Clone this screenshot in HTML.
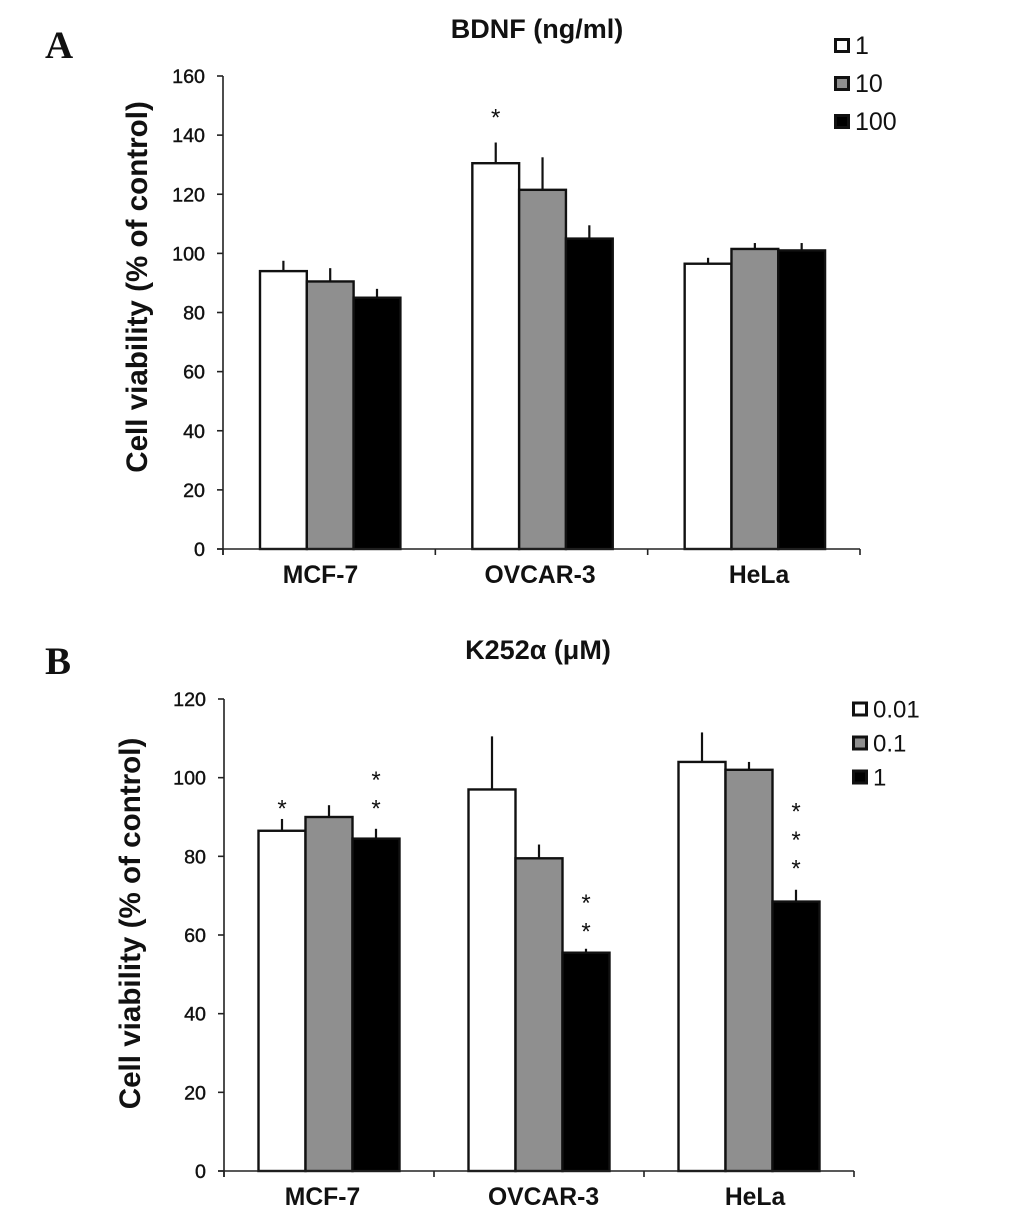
<!DOCTYPE html>
<html>
<head>
<meta charset="utf-8">
<title>Cell viability charts</title>
<style>
html,body{margin:0;padding:0;background:#fff;}
svg{display:block;}
text{font-family:"Liberation Sans",sans-serif;fill:#111;}
</style>
</head>
<body>
<svg id="fig" width="1033" height="1215" viewBox="0 0 1033 1215" xmlns="http://www.w3.org/2000/svg"></svg>
<script>
const categories = ['MCF-7', 'OVCAR-3', 'HeLa'];
const seriesColors = ['#ffffff', '#8f8f8f', '#000000'];

const legendA = ['1', '10', '100'];
const valuesA = [[94, 90.5, 85], [130.5, 121.5, 105], [96.5, 101.5, 101]];
const errorTopsA = [[97.5, 95, 88], [137.5, 132.5, 109.5], [98.5, 103.5, 103.5]];
const starsA = [[0, 0, 0], [1, 0, 0], [0, 0, 0]];
const starBaseA = [[0, 0, 0], [146.8, 0, 0], [0, 0, 0]];
const ticksA = [0, 20, 40, 60, 80, 100, 120, 140, 160];

const legendB = ['0.01', '0.1', '1'];
const valuesB = [[86.5, 90, 84.5], [97, 79.5, 55.5], [104, 102, 68.5]];
const errorTopsB = [[89.5, 93, 87], [110.5, 83, 56.5], [111.5, 104, 71.5]];
const starsB = [[1, 0, 2], [0, 0, 2], [0, 0, 3]];
const starBaseB = [[92.8, 0, 92.8], [0, 0, 61.5], [0, 0, 77.5]];
const ticksB = [0, 20, 40, 60, 80, 100, 120];

const svg = document.getElementById('fig');
function mk(tag, attrs, parent, txt) {
  const e = document.createElementNS('http://www.w3.org/2000/svg', tag);
  for (const k in attrs) e.setAttribute(k, attrs[k]);
  if (txt !== undefined) e.textContent = txt;
  (parent || svg).appendChild(e);
  return e;
}

function drawPanel(p) {
  const g = mk('g', {});
  
  

  const yScale = v => p.y0 - (v / p.yMax) * (p.y0 - p.yTop);
  const catW = (p.x1 - p.x0) / categories.length;
  const xBar = (c, s) => p.x0 + c * catW + p.offset + s * p.barW;

  const letter = mk('text', {x: p.letterX, y: p.letterY, 'font-size': 39, 'font-weight': 'bold', style: 'font-family:"Liberation Serif",serif'}, g, p.id);
  
  

  const title = mk('text', {x: p.titleX, y: p.titleY, 'font-size': p.titleSize, 'font-weight': 'bold', 'text-anchor': 'middle'}, g, p.title);
  
  

  const yTitle = mk('text', {transform: 'translate(' + p.yTitleX + ',' + p.yTitleY + ') rotate(-90)', 'font-size': p.yTitleSize, 'font-weight': 'bold', 'text-anchor': 'middle'}, g, 'Cell viability (% of control)');
  
  

  categories.forEach((cat, c) => {
    p.values[c].forEach((v, s) => {
      const x = xBar(c, s), yv = yScale(v), ye = yScale(p.errorTops[c][s]);
      const cx = x + p.barW / 2;
      const err = mk('line', {x1: cx, x2: cx, y1: yv, y2: ye, stroke: '#111', 'stroke-width': 2.2}, g);
      
      
      const bar = mk('rect', {x: x, y: yv, width: p.barW, height: p.y0 - yv, fill: seriesColors[s], stroke: '#111', 'stroke-width': 2.4}, g);
      
      
      for (let k = 0; k < p.stars[c][s]; k++) {
        const st = mk('text', {x: cx, y: yScale(p.starBase[c][s]) - k * 28.5 + 10.5, 'font-size': 24, 'text-anchor': 'middle'}, g, '*');
        
        
      }
    });
    const lab = mk('text', {x: p.labelXs[c], y: p.y0 + 34, 'font-size': 24.7, 'font-weight': 'bold', 'text-anchor': 'middle'}, g, cat);
    
    
  });

  const yAxis = mk('line', {x1: p.x0, x2: p.x0, y1: p.yTop, y2: p.y0 + 6, stroke: '#222', 'stroke-width': 1.6}, g);
  
  
  const xAxis = mk('line', {x1: p.x0 - 6, x2: p.x1, y1: p.y0, y2: p.y0, stroke: '#222', 'stroke-width': 1.6}, g);
  
  

  for (let c = 0; c <= categories.length; c++) {
    const tx = p.x0 + c * catW;
    const t = mk('line', {x1: tx, x2: tx, y1: p.y0, y2: p.y0 + 6, stroke: '#222', 'stroke-width': 1.6}, g);
    
    
  }

  p.ticks.forEach(v => {
    const ty = yScale(v);
    const t = mk('line', {x1: p.x0 - 6, x2: p.x0, y1: ty, y2: ty, stroke: '#222', 'stroke-width': 1.6}, g);
    
    
    const l = mk('text', {x: p.x0 - 18, y: ty + 7, 'font-size': 19.7, 'text-anchor': 'end', stroke: '#111', 'stroke-width': 0.4}, g, String(v));
    
    
  });

  p.legend.forEach((name, s) => {
    const ly = p.legendY + s * p.legendStep;
    const sw = mk('rect', {x: p.legendX, y: ly, width: 13, height: 12, fill: seriesColors[s], stroke: '#111', 'stroke-width': 3}, g);
    
    
    const t = mk('text', {x: p.legendX + 19.5, y: ly + 14.5, 'font-size': p.legendFont}, g, name);
    
    
  });
}

drawPanel({
  id: 'A', title: 'BDNF (ng/ml)', titleX: 537, titleY: 38, titleSize: 27,
  letterX: 45, letterY: 58,
  yTitleX: 147, yTitleY: 287, yTitleSize: 29.6,
  x0: 223, x1: 860, y0: 549, yTop: 76, yMax: 160, offset: 37, barW: 46.8,
  labelXs: [320.5, 540, 759],
  values: valuesA, errorTops: errorTopsA, stars: starsA, starBase: starBaseA, ticks: ticksA, legend: legendA,
  legendX: 835.5, legendY: 39.5, legendStep: 38, legendFont: 25
});
drawPanel({
  id: 'B', title: 'K252α (μM)', titleX: 538, titleY: 659, titleSize: 27,
  letterX: 45, letterY: 674,
  yTitleX: 140, yTitleY: 923.5, yTitleSize: 29.6,
  x0: 224, x1: 854, y0: 1171, yTop: 699, yMax: 120, offset: 34.5, barW: 47,
  labelXs: [322.5, 543.5, 755],
  values: valuesB, errorTops: errorTopsB, stars: starsB, starBase: starBaseB, ticks: ticksB, legend: legendB,
  legendX: 853.5, legendY: 703, legendStep: 34, legendFont: 24
});
</script>
</body>
</html>
